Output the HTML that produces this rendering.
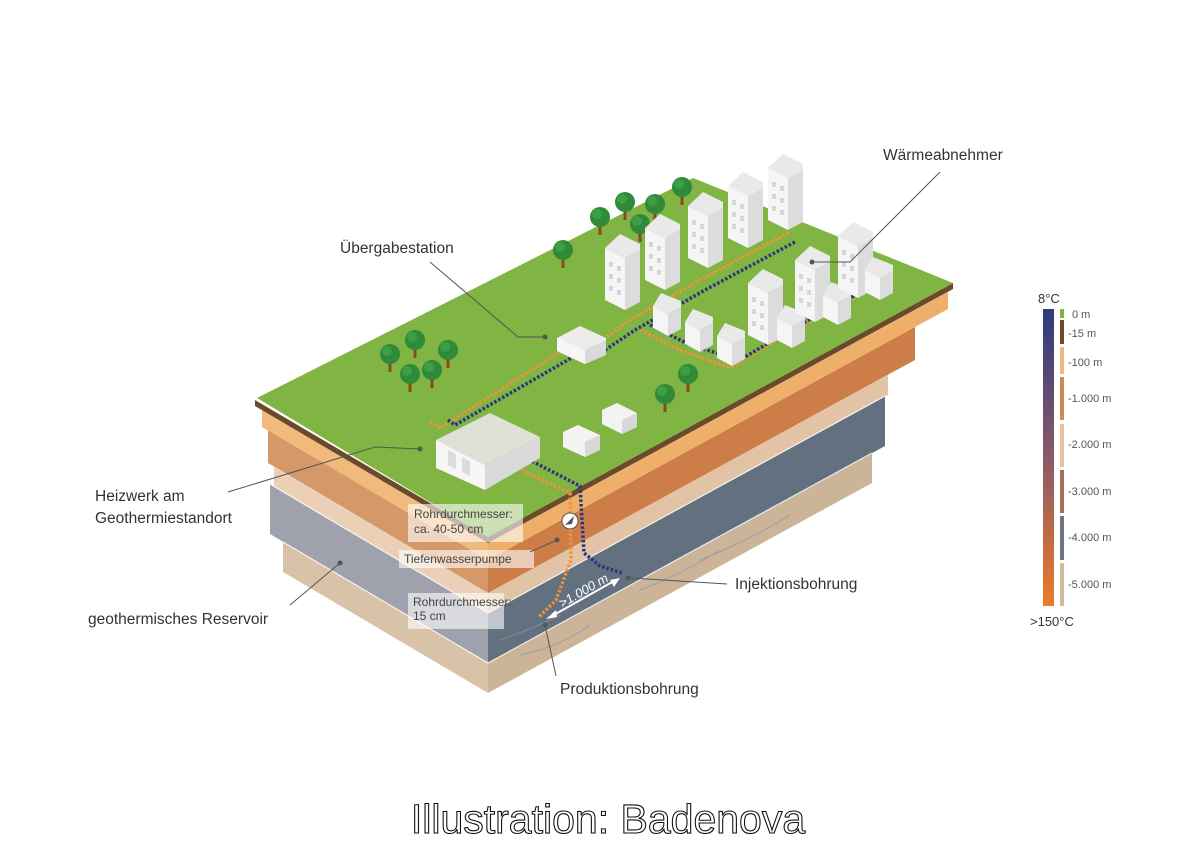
<!DOCTYPE html>
<html><head><meta charset="utf-8"><style>
html,body{margin:0;padding:0;background:#fff}
svg{display:block}
text{font-family:"Liberation Sans",sans-serif}
</style></head><body>
<svg width="1200" height="856" viewBox="0 0 1200 856" xmlns="http://www.w3.org/2000/svg">
<defs>
<linearGradient id="tg" x1="0" y1="0" x2="0" y2="1"><stop offset="0" stop-color="#2e3a80"/><stop offset="0.5" stop-color="#8a5a6a"/><stop offset="1" stop-color="#ee7a26"/></linearGradient>
<g id="tall">
<polygon points="-20,-10 0,0 0,-52 -20,-62" fill="#f5f5f5"/>
<polygon points="0,0 15,-8 15,-60 0,-52" fill="#dcdcdc"/>
<polygon points="-20,-62 0,-52 15,-60 15,-66 -5,-76" fill="#e9e9e9"/>
<g fill="#d6d6d6"><rect x="-16" y="-48" width="4" height="5"/><rect x="-8" y="-44" width="4" height="5"/><rect x="-16" y="-36" width="4" height="5"/><rect x="-8" y="-32" width="4" height="5"/><rect x="-16" y="-24" width="4" height="5"/><rect x="-8" y="-20" width="4" height="5"/></g>
</g>
<g id="house">
<polygon points="-15,-8 0,0 0,-22 -15,-30" fill="#f5f5f5"/>
<polygon points="0,0 13,-7 13,-29 0,-22" fill="#dcdcdc"/>
<polygon points="-15,-30 0,-22 13,-29 13,-35 -7,-43" fill="#e9e9e9"/>
</g>
<g id="tree">
<rect x="-1.5" y="-4" width="3" height="14" fill="#8a4a1e"/>
<circle cx="0" cy="-8" r="10" fill="#2f8a3a"/>
<circle cx="-3" cy="-11" r="5" fill="#3e9e46"/>
</g>
</defs>

<!-- layers left faces -->
<polygon points="283,542 488,663 488,693 283,572" fill="#d8c3a8"/>
<polygon points="270,484 488,613 488,663 270,534" fill="#9fa2ad"/>
<polygon points="274,467 488,593 488,613 274,487" fill="#ebcfb6"/>
<polygon points="268,430 488,560 488,593 268,463" fill="#d59868"/>
<polygon points="262,410 488,543 488,560 262,427" fill="#f0ba7c"/>
<polygon points="255,400 488,537 488,543 255,406" fill="#6b4a2b"/>
<!-- right faces -->
<polygon points="488,663 872,453 872,483 488,693" fill="#cbb497"/>
<polygon points="488,613 885,396 885,446 488,663" fill="#627080"/>
<polygon points="488,593 888,375 888,395 488,613" fill="#e2c3a6"/>
<polygon points="488,560 915,327 915,360 488,593" fill="#cd7d47"/>
<polygon points="488,543 948,292 948,309 488,560" fill="#eeaf6a"/>
<polygon points="488,537 953,283 953,289 488,543" fill="#6b4a2b"/>
<g stroke="#fff" stroke-width="1.2" fill="none" opacity="0.8">
<polyline points="270,484 488,613 885,396"/><polyline points="283,542 488,663 872,453"/>
</g>
<g stroke="#8a96a6" stroke-width="1" fill="none" opacity="0.7">
<path d="M500,640 q30,-10 60,-25"/><path d="M640,590 q40,-15 80,-40"/><path d="M520,655 q40,-8 70,-30"/><path d="M700,560 q50,-20 90,-45"/>
</g>
<!-- green top -->
<polygon points="257,398 693,178 953,283 488,537" fill="#80b443"/>

<!-- trees -->
<use href="#tree" x="600" y="225"/><use href="#tree" x="625" y="210"/><use href="#tree" x="655" y="212"/><use href="#tree" x="682" y="195"/><use href="#tree" x="640" y="232"/><use href="#tree" x="563" y="258"/>
<use href="#tree" x="390" y="362"/><use href="#tree" x="415" y="348"/><use href="#tree" x="448" y="358"/><use href="#tree" x="410" y="382"/><use href="#tree" x="432" y="378"/>
<use href="#tree" x="688" y="382"/><use href="#tree" x="665" y="402"/>

<!-- pipes -->
<g fill="none" stroke-width="3.5" stroke-dasharray="2.5 2">
<polyline stroke="#f0923a" points="430,422 440,428 560,352"/>
<polyline stroke="#2a3580" points="448,420 455,425 580,353"/>
<polyline stroke="#f0923a" points="600,342 630,320 700,280 790,232"/>
<polyline stroke="#2a3580" points="605,350 635,330 705,290 795,242"/>
<polyline stroke="#f0923a" points="640,330 680,350 730,368 780,338 860,295"/>
<polyline stroke="#2a3580" points="650,325 690,345 740,360 790,330 865,290"/>
<polyline stroke="#f0923a" points="505,462 570,493 571,560 556,600 538,618"/>
<polyline stroke="#2a3580" points="520,455 580,486 584,553 600,566 622,573"/>
</g>

<!-- buildings -->
<use href="#tall" x="625" y="310"/><use href="#tall" x="665" y="290"/><use href="#tall" x="708" y="268"/><use href="#tall" x="748" y="248"/><use href="#tall" x="788" y="230"/>
<use href="#house" x="668" y="336"/><use href="#house" x="700" y="352"/><use href="#house" x="732" y="366"/>
<use href="#tall" x="768" y="345"/><use href="#house" x="792" y="348"/>
<use href="#tall" x="815" y="322"/><use href="#house" x="838" y="325"/>
<use href="#tall" x="858" y="298"/><use href="#house" x="880" y="300"/>
<!-- Übergabestation -->
<polygon points="557,338 580,326 606,338 606,355 585,364 557,351" fill="#ececec"/>
<polygon points="557,338 585,350 585,364 557,351" fill="#f6f6f6"/>
<polygon points="585,350 606,340 606,355 585,364" fill="#dadada"/>
<!-- sheds -->
<polygon points="563,432 578,425 600,435 600,450 585,457 563,447" fill="#f3f3f3"/>
<polygon points="585,442 600,435 600,450 585,457" fill="#d8d8d8"/>
<polygon points="602,410 617,403 637,413 637,427 622,434 602,424" fill="#f3f3f3"/>
<polygon points="622,420 637,413 637,427 622,434" fill="#d8d8d8"/>
<!-- Heizwerk -->
<polygon points="436,440 490,413 540,437 485,465" fill="#e8e6e6" opacity="0.9"/>
<polygon points="436,440 485,465 485,490 436,468" fill="#f6f6f6"/>
<polygon points="485,465 540,437 540,458 485,490" fill="#d9d9d9"/>
<rect x="448" y="450" width="8" height="15" fill="#dcdcdc" transform="skewY(27)" transform-origin="448 450"/>
<rect x="462" y="457" width="8" height="15" fill="#dcdcdc" transform="skewY(27)" transform-origin="462 457"/>

<!-- pump -->
<circle cx="570" cy="521" r="8" fill="#fff" stroke="#555" stroke-width="1"/>
<polygon points="565,525 574,516 572,524" fill="#555"/>
<!-- distance arrow -->
<g stroke="#fff" stroke-width="2" fill="#fff">
<line x1="552" y1="616" x2="614" y2="581"/>
<polygon points="546,619 556,610 557,617" stroke="none"/>
<polygon points="620,578 610,580 614,587" stroke="none"/>
</g>
<text x="0" y="0" font-size="13" fill="#fff" font-style="italic" transform="translate(562,608) rotate(-30)">&gt;1.000 m</text>

<!-- label boxes -->
<rect x="408" y="504" width="115" height="38" fill="#fff" opacity="0.6"/>
<text x="414" y="518" font-size="12" fill="#444">Rohrdurchmesser:</text>
<text x="414" y="533" font-size="12" fill="#444">ca. 40-50 cm</text>
<rect x="399" y="550" width="135" height="18" fill="#fff" opacity="0.6"/>
<text x="404" y="563" font-size="12" fill="#444">Tiefenwasserpumpe</text>
<rect x="408" y="593" width="96" height="36" fill="#fff" opacity="0.6"/>
<text x="413" y="606" font-size="12" fill="#444">Rohrdurchmesser:</text>
<text x="413" y="620" font-size="12" fill="#444">15 cm</text>

<!-- leader lines -->
<g stroke="#555" stroke-width="1" fill="none">
<polyline points="940,172 850,262 812,262"/>
<polyline points="430,262 518,337 545,337"/>
<polyline points="228,492 375,447 420,449"/>
<polyline points="290,605 340,563"/>
<polyline points="727,584 630,578"/>
<polyline points="556,676 545,625"/>
<polyline points="530,552 557,540"/>
</g>
<g fill="#555"><circle cx="812" cy="262" r="2.5"/><circle cx="545" cy="337" r="2.5"/><circle cx="420" cy="449" r="2.5"/><circle cx="340" cy="563" r="2.5"/><circle cx="628" cy="578" r="2.5"/><circle cx="545" cy="625" r="2.5"/><circle cx="557" cy="540" r="2.5"/></g>

<g font-size="15.5" fill="#333">
<text x="883" y="160">Wärmeabnehmer</text>
<text x="340" y="253">Übergabestation</text>
<text x="95" y="501">Heizwerk am</text>
<text x="95" y="523">Geothermiestandort</text>
<text x="88" y="624">geothermisches Reservoir</text>
<text x="735" y="589">Injektionsbohrung</text>
<text x="560" y="694">Produktionsbohrung</text>
</g>

<!-- legend -->
<rect x="1043" y="309" width="11" height="297" fill="url(#tg)"/>
<rect x="1060" y="309" width="4" height="9" fill="#80b443"/>
<rect x="1060" y="320" width="4" height="24" fill="#6b4a2b"/>
<rect x="1060" y="347" width="4" height="27" fill="#f0ba7c"/>
<rect x="1060" y="377" width="4" height="43" fill="#cd8a55"/>
<rect x="1060" y="424" width="4" height="43" fill="#e2c3a6"/>
<rect x="1060" y="470" width="4" height="43" fill="#a86c5a"/>
<rect x="1060" y="516" width="4" height="44" fill="#6a7485"/>
<rect x="1060" y="563" width="4" height="43" fill="#d0bba0"/>
<text x="1038" y="303" font-size="13" fill="#333">8°C</text>
<text x="1030" y="626" font-size="13" fill="#333">&gt;150°C</text>
<g font-size="11" fill="#555">
<text x="1072" y="318">0 m</text><text x="1068" y="337">-15 m</text><text x="1068" y="366">-100 m</text><text x="1068" y="402">-1.000 m</text><text x="1068" y="448">-2.000 m</text><text x="1068" y="495">-3.000 m</text><text x="1068" y="541">-4.000 m</text><text x="1068" y="588">-5.000 m</text>
</g>

<text x="608" y="833" font-size="41" text-anchor="middle" fill="#fff" stroke="#111" stroke-width="1.1">Illustration: Badenova</text>
</svg>
</body></html>
